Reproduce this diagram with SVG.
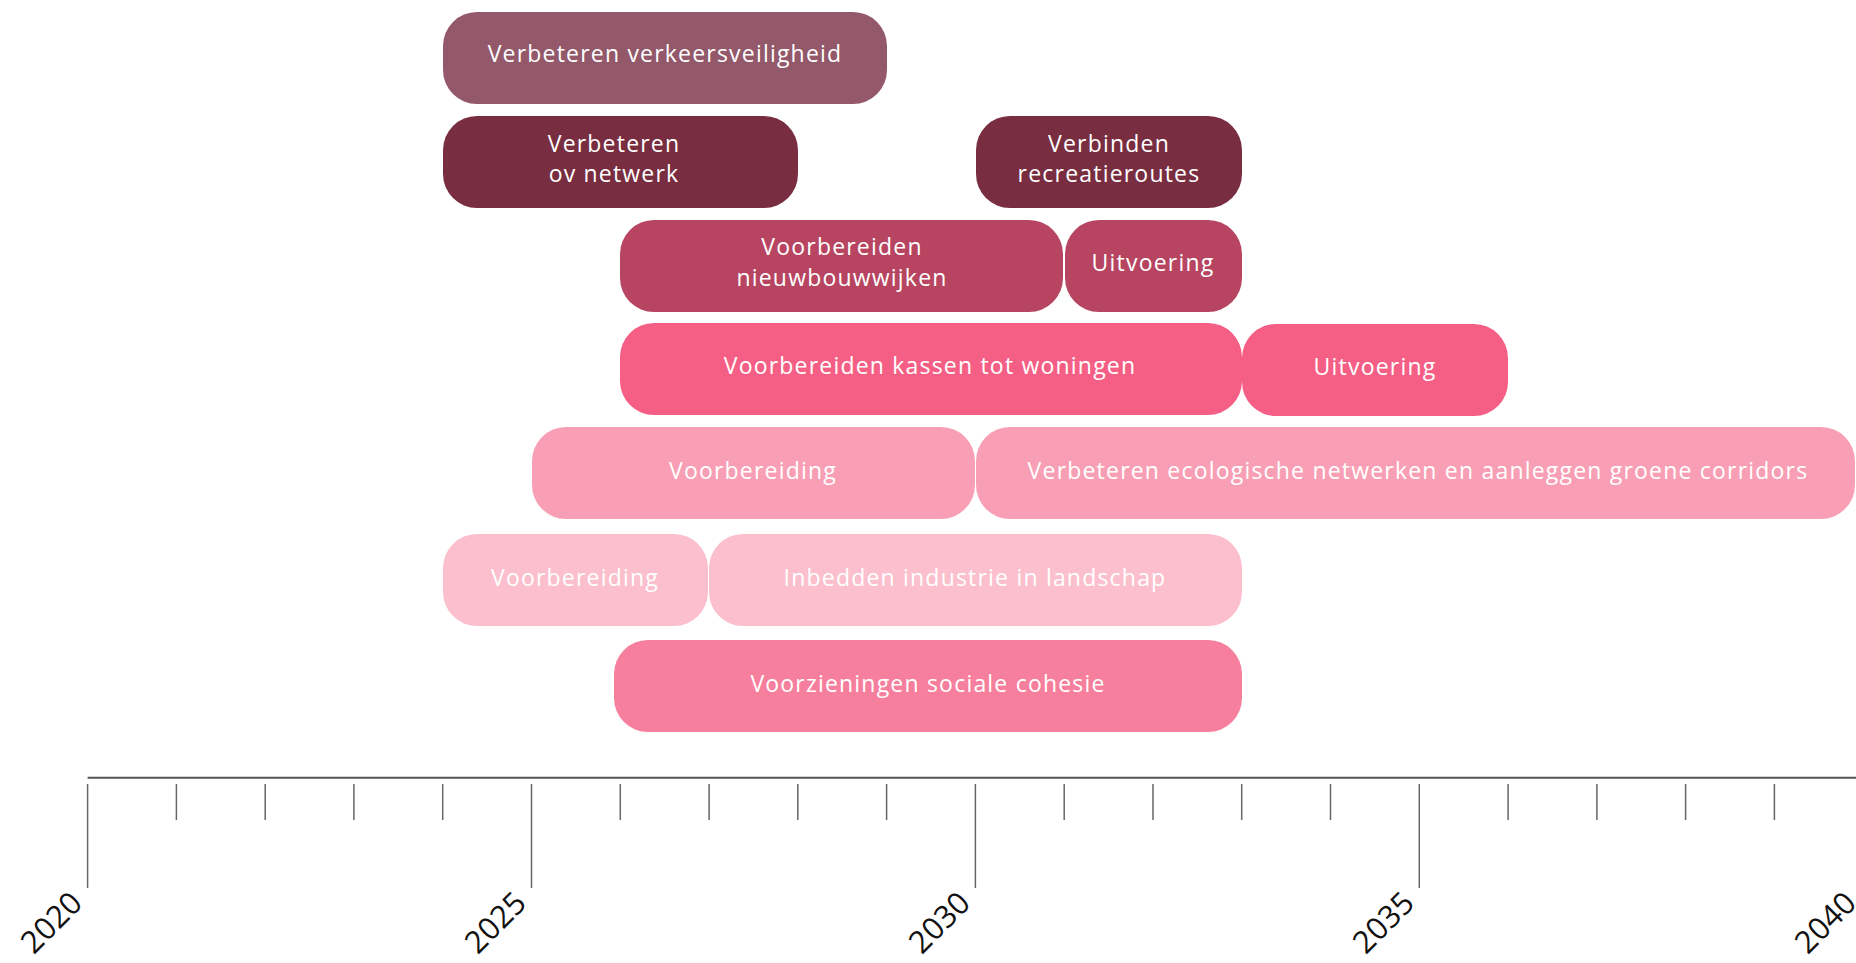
<svg xmlns="http://www.w3.org/2000/svg" width="1856" height="963" viewBox="0 0 1856 963">
<style>
.bar{stroke:none}
.lbl{font-family:"Open Sans","Noto Sans","DejaVu Sans",sans-serif;font-size:23px;fill:#ffffff;text-anchor:middle;letter-spacing:1.2px}
.yr{font-family:"Open Sans","Noto Sans","DejaVu Sans",sans-serif;font-size:31px;fill:#111111;text-anchor:end}
.axis{stroke:#555555;stroke-width:2;fill:none}
.tick{stroke:#666666;stroke-width:1.5;fill:none}
.c1{fill:#93586A}.c2{fill:#782D40}.c3{fill:#B74561}.c4{fill:#F55F85}.c5{fill:#F99FB5}.c6{fill:#FBBFCD}.c7{fill:#F77F9E}
</style>
<rect width="1856" height="963" fill="#ffffff"/>
<g id="verkeersveiligheid"><rect class="bar c1" x="443" y="12" width="444" height="92" rx="34"/><text class="lbl" x="665" y="62">Verbeteren verkeersveiligheid</text></g>
<g id="ov-netwerk"><rect class="bar c2" x="443" y="116" width="355" height="92" rx="34"/><text class="lbl" x="614" y="152">Verbeteren</text><text class="lbl" x="614" y="182">ov netwerk</text></g>
<g id="recreatieroutes"><rect class="bar c2" x="976" y="116" width="266" height="92" rx="34"/><text class="lbl" x="1109" y="152">Verbinden</text><text class="lbl" x="1109" y="182">recreatieroutes</text></g>
<g id="nieuwbouwwijken"><rect class="bar c3" x="620" y="220" width="443" height="92" rx="34"/><text class="lbl" x="842" y="255">Voorbereiden</text><text class="lbl" x="842" y="286">nieuwbouwwijken</text></g>
<g id="uitvoering-1"><rect class="bar c3" x="1065" y="220" width="177" height="92" rx="34"/><text class="lbl" x="1153" y="271">Uitvoering</text></g>
<g id="kassen-woningen"><rect class="bar c4" x="620" y="323" width="622" height="92" rx="34"/><text class="lbl" x="930" y="374">Voorbereiden kassen tot woningen</text></g>
<g id="uitvoering-2"><rect class="bar c4" x="1242" y="324" width="266" height="92" rx="34"/><text class="lbl" x="1375" y="375">Uitvoering</text></g>
<g id="voorbereiding-1"><rect class="bar c5" x="532" y="427" width="443" height="92" rx="34"/><text class="lbl" x="753" y="479">Voorbereiding</text></g>
<g id="ecologische-netwerken"><rect class="bar c5" x="976" y="427" width="879" height="92" rx="34"/><text class="lbl" x="1418" y="479">Verbeteren ecologische netwerken en aanleggen groene corridors</text></g>
<g id="voorbereiding-2"><rect class="bar c6" x="443" y="534" width="265" height="92" rx="34"/><text class="lbl" x="575" y="586">Voorbereiding</text></g>
<g id="industrie-landschap"><rect class="bar c6" x="709" y="534" width="533" height="92" rx="34"/><text class="lbl" x="975" y="586">Inbedden industrie in landschap</text></g>
<g id="sociale-cohesie"><rect class="bar c7" x="614" y="640" width="628" height="92" rx="34"/><text class="lbl" x="928" y="692">Voorzieningen sociale cohesie</text></g>
<g id="axis">
<line class="axis" x1="87.6" y1="777.7" x2="1856" y2="777.7"/>
<line class="tick" x1="87.6" y1="784" x2="87.6" y2="888"/>
<line class="tick" x1="176.4" y1="784" x2="176.4" y2="820"/>
<line class="tick" x1="265.2" y1="784" x2="265.2" y2="820"/>
<line class="tick" x1="353.9" y1="784" x2="353.9" y2="820"/>
<line class="tick" x1="442.7" y1="784" x2="442.7" y2="820"/>
<line class="tick" x1="531.5" y1="784" x2="531.5" y2="888"/>
<line class="tick" x1="620.3" y1="784" x2="620.3" y2="820"/>
<line class="tick" x1="709.1" y1="784" x2="709.1" y2="820"/>
<line class="tick" x1="797.8" y1="784" x2="797.8" y2="820"/>
<line class="tick" x1="886.6" y1="784" x2="886.6" y2="820"/>
<line class="tick" x1="975.4" y1="784" x2="975.4" y2="888"/>
<line class="tick" x1="1064.2" y1="784" x2="1064.2" y2="820"/>
<line class="tick" x1="1153.0" y1="784" x2="1153.0" y2="820"/>
<line class="tick" x1="1241.7" y1="784" x2="1241.7" y2="820"/>
<line class="tick" x1="1330.5" y1="784" x2="1330.5" y2="820"/>
<line class="tick" x1="1419.3" y1="784" x2="1419.3" y2="888"/>
<line class="tick" x1="1508.1" y1="784" x2="1508.1" y2="820"/>
<line class="tick" x1="1596.9" y1="784" x2="1596.9" y2="820"/>
<line class="tick" x1="1685.6" y1="784" x2="1685.6" y2="820"/>
<line class="tick" x1="1774.4" y1="784" x2="1774.4" y2="820"/>
<text class="yr" transform="translate(84,905) rotate(-45)">2020</text>
<text class="yr" transform="translate(528,905) rotate(-45)">2025</text>
<text class="yr" transform="translate(972,905) rotate(-45)">2030</text>
<text class="yr" transform="translate(1416,905) rotate(-45)">2035</text>
<text class="yr" transform="translate(1858,905) rotate(-45)">2040</text>
</g>
</svg>
